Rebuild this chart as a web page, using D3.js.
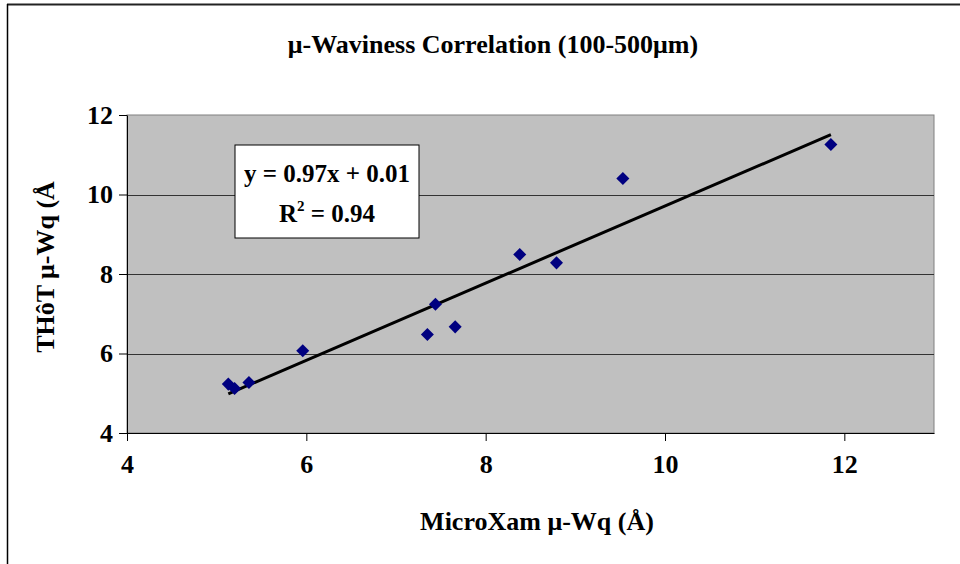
<!DOCTYPE html>
<html>
  <head>
    <meta charset="utf-8">
    <title>Waviness Correlation</title>
    <script src="https://d3js.org/d3.v7.min.js"></script>
    <style>
      body { margin: 0; background: #fff; }
      svg text { font-family: "Times New Roman", "Liberation Serif", Times, "DejaVu Serif", serif !important; font-weight: bold; fill: #000; }
    </style>
  </head>
  <body>
    <div id="chart"></div>
    <script>
      // measured values (MicroXam vs THoT)
      const microXam = [5.13, 5.20, 5.36, 5.96, 7.35, 7.44, 7.66, 8.38, 8.79, 9.53, 11.85];
      const thot     = [5.23, 5.12, 5.27, 6.07, 6.48, 7.24, 6.67, 8.49, 8.28, 10.40, 11.26];
      const xTicks = [4, 6, 8, 10, 12];
      const yTicks = [4, 6, 8, 10, 12];
      const slope = 0.97, intercept = 0.01;
      const titleText = 'μ-Waviness Correlation (100-500μm)';
      const xLabel = 'MicroXam μ-Wq (Å)';
      const yLabel = 'THôT μ-Wq (Å';
      const eqLines = ['y = 0.97x + 0.01', 'R', '2', ' = 0.94'];

      const width = 960, height = 564;
      const margin = { left: 127, right: 26, top: 115, bottom: 131 };
      const innerWidth = width - margin.left - margin.right;
      const innerHeight = height - margin.top - margin.bottom;

      const svg = d3.select('#chart').append('svg')
        .attr('width', width)
        .attr('height', height);

      // outer frame (top + left only visible)
      svg.append('line').attr('x1', 7).attr('x2', width).attr('y1', 4.5).attr('y2', 4.5)
        .attr('stroke', '#222').attr('stroke-width', 2);
      svg.append('line').attr('x1', 7.5).attr('x2', 7.5).attr('y1', 4).attr('y2', height)
        .attr('stroke', '#000').attr('stroke-width', 1.5);

      svg.append('text')
        .attr('x', 493).attr('y', 53)
        .attr('text-anchor', 'middle')
        .style('font-size', '26px')
        .text(titleText);

      const g = svg.append('g')
        .attr('transform', `translate(${margin.left},${margin.top})`);

      const xScale = d3.scaleLinear().domain([4, 13]).range([0, innerWidth]);
      const yScale = d3.scaleLinear().domain([4, 12]).range([innerHeight, 0]);

      g.append('rect')
        .attr('width', innerWidth).attr('height', innerHeight)
        .attr('fill', '#c0c0c0')
        .attr('stroke', '#808080');

      // gridlines
      g.selectAll('.grid').data(yTicks.slice(1, -1)).enter().append('line')
        .attr('class', 'grid')
        .attr('x1', 0).attr('x2', innerWidth)
        .attr('y1', d => Math.round(yScale(d)) + 0.5)
        .attr('y2', d => Math.round(yScale(d)) + 0.5)
        .attr('stroke', '#333').attr('stroke-width', 1);

      const xAxis = d3.axisBottom(xScale).tickValues(xTicks).tickSizeInner(8).tickSizeOuter(0).tickPadding(14);
      const yAxis = d3.axisLeft(yScale).tickValues(yTicks).tickSizeInner(8).tickSizeOuter(0).tickPadding(6);

      const xAxisG = g.append('g').attr('transform', `translate(0,${innerHeight})`).call(xAxis);
      const yAxisG = g.append('g').call(yAxis);
      [xAxisG, yAxisG].forEach(a => {
        a.attr('font-family', null);
        a.select('.domain').attr('stroke', '#000');
        a.selectAll('.tick line').attr('stroke', '#000');
        a.selectAll('.tick text')
          .style('font-size', '26px')
          .attr('fill', '#000');
      });

      // trend line
      const xMin = d3.min(microXam), xMax = d3.max(microXam);
      g.append('line')
        .attr('x1', xScale(xMin)).attr('y1', yScale(slope * xMin + intercept))
        .attr('x2', xScale(xMax)).attr('y2', yScale(slope * xMax + intercept))
        .attr('stroke', '#000').attr('stroke-width', 3);

      // points
      const pts = microXam.map((x, i) => ({ x, y: thot[i] }));
      g.selectAll('.pt').data(pts).enter().append('path')
        .attr('class', 'pt')
        .attr('d', d3.symbol().type(d3.symbolSquare).size(85))
        .attr('transform', d => `translate(${xScale(d.x)},${yScale(d.y)}) rotate(45)`)
        .attr('fill', '#000080');

      // equation box
      const box = svg.append('g').attr('transform', 'translate(235,145)');
      box.append('rect').attr('width', 184).attr('height', 93)
        .attr('fill', '#fff').attr('stroke', '#000').attr('stroke-width', 1);
      box.append('text').attr('x', 92).attr('y', 37)
        .attr('text-anchor', 'middle').style('font-size', '25px')
        .text(eqLines[0]);
      const r2 = box.append('text').attr('x', 92).attr('y', 77)
        .attr('text-anchor', 'middle').style('font-size', '25px');
      r2.append('tspan').text(eqLines[1]);
      r2.append('tspan').attr('dy', -11).style('font-size', '15px').text(eqLines[2]);
      r2.append('tspan').attr('dy', 11).text(eqLines[3]);

      // axis titles
      svg.append('text')
        .attr('x', 537).attr('y', 530)
        .attr('text-anchor', 'middle').style('font-size', '26px')
        .text(xLabel);
      svg.append('text')
        .attr('transform', 'translate(54,267) rotate(-90)')
        .attr('text-anchor', 'middle').style('font-size', '26px')
        .text(yLabel);
    </script>
  </body>
</html>
